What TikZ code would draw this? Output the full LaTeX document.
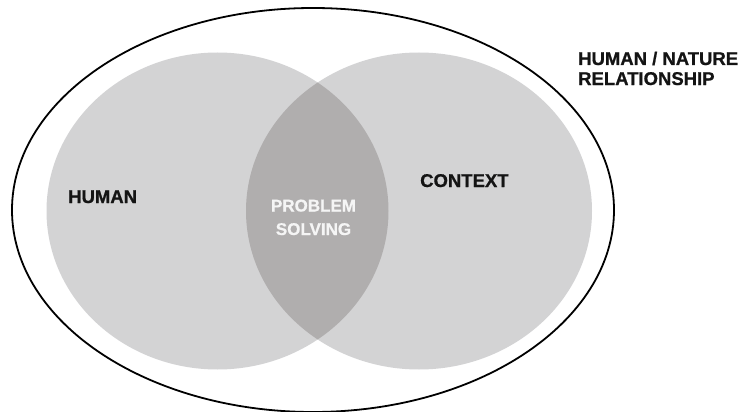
\documentclass[tikz,border=0pt]{standalone}
\usepackage{fontspec}
\setmainfont{Liberation Sans}
\newfontfamily\heavyfont[FakeBold=0.8]{Liberation Sans Bold}
\definecolor{lightgrey}{RGB}{211,211,212}
\definecolor{lensgrey}{RGB}{176,174,174}
\definecolor{lenstext}{RGB}{245,245,245}
\definecolor{labeltext}{RGB}{20,20,20}
\tikzset{
  lbl/.style={inner sep=0pt, font=\fontsize{18.5}{20}\selectfont\heavyfont, text=labeltext},
  lenslbl/.style={inner sep=0pt, font=\fontsize{17}{23.5}\selectfont\heavyfont, text=lenstext},
  outer/.style={draw=black, line width=1.8pt}
}
\begin{document}
\begin{tikzpicture}[x=1pt,y=-1pt]
\useasboundingbox (0,0) rectangle (745,412);
% circles
\fill[lightgrey] (217.5,211) ellipse [x radius=171, y radius=158.5];
\fill[lightgrey] (419,211) ellipse [x radius=173, y radius=158.5];
\begin{scope}
  \clip (217.5,211) ellipse [x radius=171, y radius=158.5];
  \fill[lensgrey] (419,211) ellipse [x radius=173, y radius=158.5];
\end{scope}
% outer ellipse
\draw[outer] (313,210) ellipse [x radius=301, y radius=202];
% labels
\node[lbl, anchor=base west] (human) at (68,203) {HUMAN};
\node[lbl, anchor=base west] (context) at (420,187) {CONTEXT};
\node[lenslbl, anchor=base] (problem) at (313.5,211.5) {PROBLEM};
\node[lenslbl, anchor=base] (solving) at (313.5,235) {SOLVING};
\node[lbl, anchor=base west] (hn) at (578,65) {HUMAN / NATURE};
\node[lbl, anchor=base west] (rel) at (578,85) {RELATIONSHIP};
\end{tikzpicture}
\end{document}
